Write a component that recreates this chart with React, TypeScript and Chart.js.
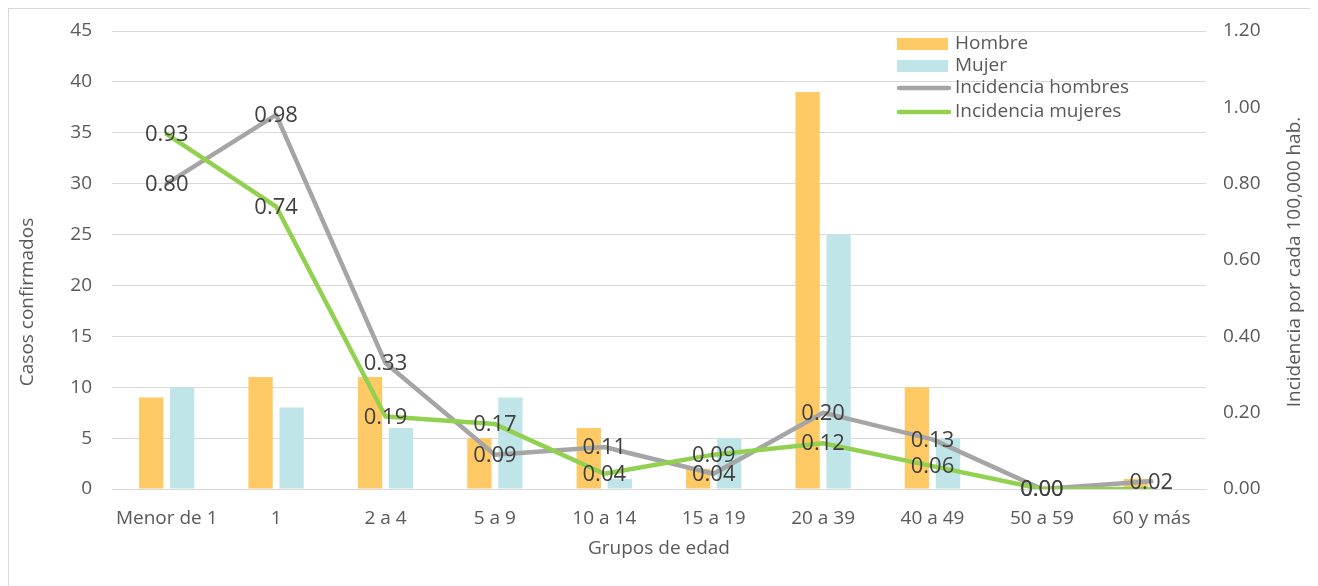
import React, { useEffect, useRef } from "react";
import { Chart, registerables } from "chart.js";

Chart.register(...registerables);

const categories = ["Menor de 1", "1", "2 a 4", "5 a 9", "10 a 14", "15 a 19", "20 a 39", "40 a 49", "50 a 59", "60 y más"];
const hombre = [9, 11, 11, 5, 6, 2, 39, 10, 0, 1];
const mujer = [10, 8, 6, 9, 1, 5, 25, 5, 0, 0];
const incidenciaHombres = [0.8, 0.98, 0.33, 0.09, 0.11, 0.04, 0.2, 0.13, 0.0, 0.02];
const incidenciaMujeres = [0.93, 0.74, 0.19, 0.17, 0.04, 0.09, 0.12, 0.06, 0.0, 0.0];
const mostrarEtiquetaMujeres = [true, true, true, true, true, true, true, true, true, false];

const leftTitle = "Casos confirmados";
const rightTitle = "Incidencia por cada 100,000 hab.";
const bottomTitle = "Grupos de edad";

const ORANGE = "#FFCA65";
const BLUE = "#BFE5E8";
const GRAY = "#A5A5A5";
const GREEN = "#92D050";
const TEXT = "#595959";
const FONT = "'Open Sans', sans-serif";

const W = 1309;
const H = 577;

const extrasPlugin = {
  id: "extras",
  afterDatasetsDraw(chart: any) {
    const ctx = chart.ctx;
    ctx.save();
    ctx.font = `22px ${FONT}`;
    ctx.fillStyle = "#404040";
    ctx.textAlign = "center";
    ctx.textBaseline = "middle";
    [2, 3].forEach((di) => {
      const meta = chart.getDatasetMeta(di);
      const vals = chart.data.datasets[di].data;
      meta.data.forEach((pt: any, i: number) => {
        if (di === 3 && !mostrarEtiquetaMujeres[i]) return;
        ctx.fillText(Number(vals[i]).toFixed(2), pt.x, pt.y + 1);
      });
    });
    ctx.restore();
  },
  afterDraw(chart: any) {
    const ctx = chart.ctx;
    ctx.save();
    ctx.fillStyle = TEXT;
    ctx.font = `19px ${FONT}`;
    ctx.textAlign = "center";
    ctx.textBaseline = "middle";
    ctx.save();
    ctx.translate(19, 293);
    ctx.rotate(-Math.PI / 2);
    ctx.fillText(leftTitle, 0, 0);
    ctx.restore();
    ctx.save();
    ctx.translate(1286, 253);
    ctx.rotate(-Math.PI / 2);
    ctx.fillText(rightTitle, 0, 0);
    ctx.restore();
    const area = chart.chartArea;
    ctx.fillText(bottomTitle, (area.left + area.right) / 2, 540);

    const items = [
      { label: "Hombre", type: "box", color: ORANGE, y: 35 },
      { label: "Mujer", type: "box", color: BLUE, y: 57 },
      { label: "Incidencia hombres", type: "line", color: GRAY, y: 79 },
      { label: "Incidencia mujeres", type: "line", color: GREEN, y: 103 },
    ];
    ctx.textAlign = "left";
    items.forEach((it) => {
      if (it.type === "box") {
        ctx.fillStyle = it.color;
        ctx.fillRect(888, it.y - 6, 51, 12);
      } else {
        ctx.strokeStyle = it.color;
        ctx.lineWidth = 4.5;
        ctx.lineCap = "round";
        ctx.beginPath();
        ctx.moveTo(890, it.y);
        ctx.lineTo(940, it.y);
        ctx.stroke();
      }
      ctx.fillStyle = TEXT;
      ctx.fillText(it.label, 946, it.y);
    });
    ctx.restore();
  },
};

export default function App() {
  const ref = useRef<HTMLCanvasElement>(null);
  useEffect(() => {
    if (!ref.current) return;
    const chart = new Chart(ref.current, {
      type: "bar",
      data: {
        labels: categories,
        datasets: [
          {
            type: "bar",
            label: "Hombre",
            data: hombre,
            backgroundColor: ORANGE,
            yAxisID: "y",
            categoryPercentage: 0.567,
            barPercentage: 0.784,
            order: 2,
          },
          {
            type: "bar",
            label: "Mujer",
            data: mujer,
            backgroundColor: BLUE,
            yAxisID: "y",
            categoryPercentage: 0.567,
            barPercentage: 0.784,
            order: 2,
          },
          {
            type: "line",
            label: "Incidencia hombres",
            data: incidenciaHombres,
            borderColor: GRAY,
            backgroundColor: GRAY,
            borderWidth: 4.5,
            pointRadius: 0,
            borderCapStyle: "round",
            borderJoinStyle: "round",
            yAxisID: "y1",
            order: 1,
          },
          {
            type: "line",
            label: "Incidencia mujeres",
            data: incidenciaMujeres,
            borderColor: GREEN,
            backgroundColor: GREEN,
            borderWidth: 4.5,
            pointRadius: 0,
            borderCapStyle: "round",
            borderJoinStyle: "round",
            yAxisID: "y1",
            order: 0,
          },
        ] as any,
      },
      options: {
        responsive: false,
        animation: false,
        layout: { padding: { top: 22, left: 0, right: 0, bottom: 0 } },
        plugins: {
          legend: { display: false },
          tooltip: { enabled: false },
          title: { display: false },
        },
        scales: {
          x: {
            offset: true,
            grid: { display: false },
            border: { display: true, color: "#D9D9D9", width: 1 },
            ticks: { color: TEXT, font: { family: FONT, size: 19 }, padding: 10, maxRotation: 0, autoSkip: false },
            afterFit: (s: any) => {
              s.height = 97;
              s.paddingLeft = 0;
              s.paddingRight = 0;
            },
          },
          y: {
            position: "left",
            min: 0,
            max: 45,
            ticks: { stepSize: 5, color: TEXT, font: { family: FONT, size: 19 }, padding: 20 },
            grid: { color: "#D9D9D9", lineWidth: 1, drawTicks: false },
            border: { display: false },
            afterFit: (s: any) => {
              s.width = 103;
              s.paddingTop = 0;
              s.paddingBottom = 0;
            },
          },
          y1: {
            position: "right",
            min: 0,
            max: 1.2,
            ticks: {
              stepSize: 0.2,
              color: TEXT,
              font: { family: FONT, size: 19 },
              padding: 17,
              callback: (v: any) => Number(v).toFixed(2),
            },
            grid: { drawOnChartArea: false, drawTicks: false },
            border: { display: false },
            afterFit: (s: any) => {
              s.width = 112;
              s.paddingTop = 0;
              s.paddingBottom = 0;
            },
          },
        },
      } as any,
      plugins: [extrasPlugin],
    });
    return () => chart.destroy();
  }, []);
  return (
    <div
      style={{
        width: W,
        height: H,
        borderLeft: "1px solid #D9D9D9",
        borderTop: "1px solid #D9D9D9",
        background: "#fff",
      }}
    >
      <canvas ref={ref} width={W} height={H} style={{ display: "block", width: W, height: H }} />
    </div>
  );
}
